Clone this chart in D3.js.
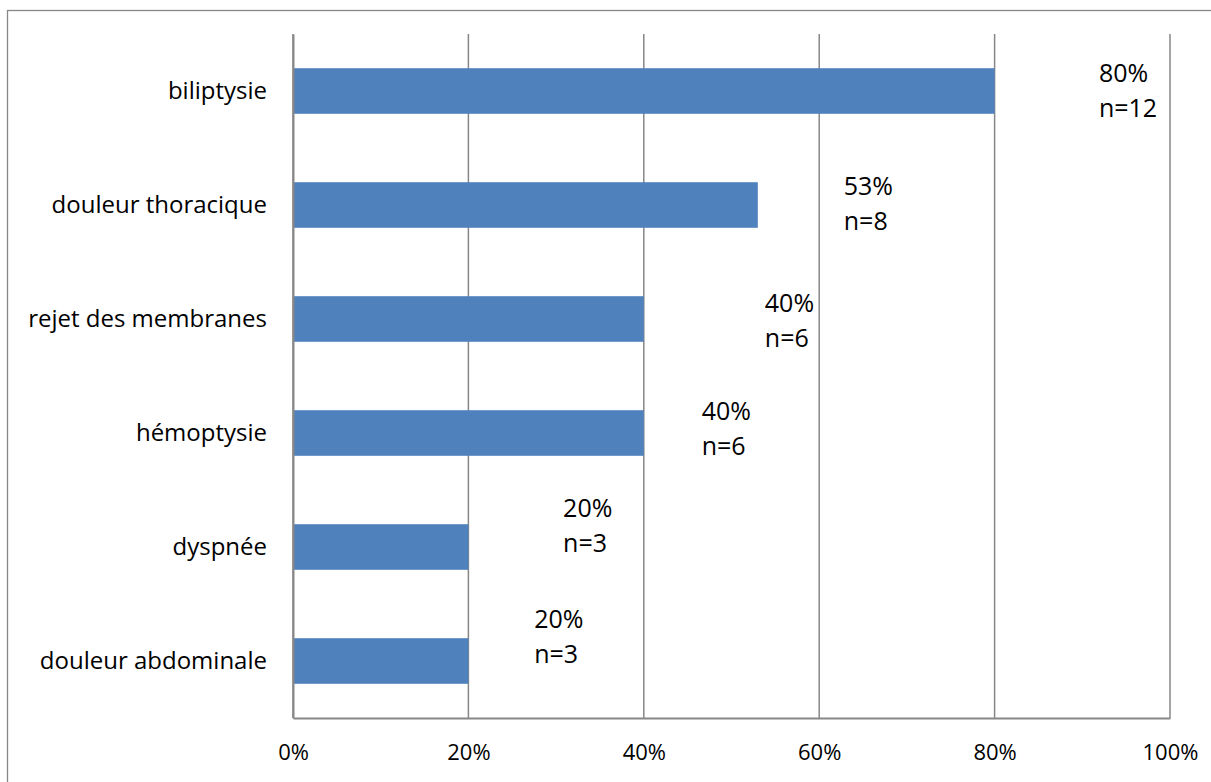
<!DOCTYPE html>
<html>
<head>
<meta charset="utf-8">
<script src="https://cdn.jsdelivr.net/npm/d3@7"></script>
<style>
  body { margin: 0; background: #fff; }
  text { font-family: "Open Sans", sans-serif; fill: #000; }
</style>
</head>
<body>
<svg id="chart" width="1211" height="782"></svg>
<script>
// data
const categories = ['biliptysie', 'douleur thoracique', 'rejet des membranes', 'hémoptysie', 'dyspnée', 'douleur abdominale']
const percents = [80, 53, 40, 40, 20, 20]
const counts = [12, 8, 6, 6, 3, 3]
const ticks = [0, 20, 40, 60, 80, 100]

// the labels in the original were dragged around by hand:
// x in % units, y as a fraction of the band from its centre
const labelAt = [
  { x: 91.9, dy: -0.08 },
  { x: 62.8, dy: -0.09 },
  { x: 53.8, dy: -0.06 },
  { x: 46.6, dy: -0.11 },
  { x: 30.8, dy: -0.26 },
  { x: 27.5, dy: -0.29 },
]

const W = 1211, H = 782
const gridLeft = 293, gridRight = 1170, gridTop = 34, gridBottom = 718
const lineColor = '#878787'
const barColor = '#4F81BD'

const svg = d3.select('#chart')

// outer frame (right and bottom edges fall outside the picture)
svg.append('rect')
  .attr('x', 7.5).attr('y', 10.5)
  .attr('width', W).attr('height', H)
  .attr('fill', 'none').attr('stroke', lineColor).attr('stroke-width', 1.3)

const x = d3.scaleLinear().domain([0, 100]).range([gridLeft, gridRight])
const y = d3.scaleBand().domain(categories).range([gridTop, gridBottom]).paddingInner(0.6).paddingOuter(0.3)
const band = y.step()

// vertical gridlines
svg.append('g')
  .selectAll('line')
  .data(ticks)
  .join('line')
  .attr('x1', d => x(d)).attr('x2', d => x(d))
  .attr('y1', gridTop).attr('y2', gridBottom)
  .attr('stroke', lineColor).attr('stroke-width', 1.5)

// bars
svg.append('g')
  .selectAll('rect')
  .data(percents)
  .join('rect')
  .attr('x', x(0))
  .attr('y', (d, i) => y(categories[i]))
  .attr('width', d => x(d) - x(0))
  .attr('height', y.bandwidth())
  .attr('fill', barColor)

// left axis line and bottom axis
const axisX = d3.axisBottom(x).tickValues(ticks).tickFormat(d => d + '%').tickSize(0).tickPadding(26)
const gx = svg.append('g').attr('transform', `translate(0,${gridBottom})`).call(axisX)
gx.select('.domain').attr('stroke', lineColor).attr('stroke-width', 2.2)
gx.selectAll('text').style('font-family', '"Open Sans", sans-serif').style('font-size', '22px').attr('fill', '#000')

const axisY = d3.axisLeft(y).tickSize(0).tickPadding(26)
const gy = svg.append('g').attr('transform', `translate(${gridLeft},0)`).call(axisY)
gy.select('.domain').attr('stroke', lineColor).attr('stroke-width', 2)
gy.selectAll('text').style('font-family', '"Open Sans", sans-serif').style('font-size', '24px').attr('fill', '#000')

// value labels, two lines each
const lbl = svg.append('g')
  .selectAll('text')
  .data(percents)
  .join('text')
  .attr('x', (d, i) => x(labelAt[i].x))
  .attr('y', (d, i) => y(categories[i]) + y.bandwidth() / 2 + labelAt[i].dy * band)
  .style('font-size', '25px')
lbl.append('tspan').text(d => d + '%')
lbl.append('tspan')
  .attr('x', (d, i) => x(labelAt[i].x))
  .attr('dy', 35)
  .text((d, i) => 'n=' + counts[i])
</script>
</body>
</html>
